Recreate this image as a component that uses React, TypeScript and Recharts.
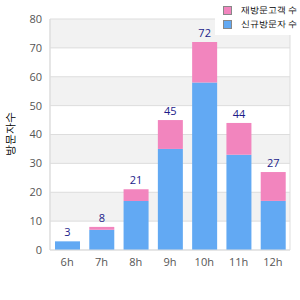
import {
  BarChart,
  Bar,
  XAxis,
  YAxis,
  CartesianGrid,
  LabelList,
} from "recharts";

const hours = ["6h", "7h", "8h", "9h", "10h", "11h", "12h"];
const newVisitors = [3, 7, 17, 35, 58, 33, 17];
const repeatVisitors = [0, 1, 4, 10, 14, 11, 10];
const yTicks = [0, 10, 20, 30, 40, 50, 60, 70, 80];

const NEW_NAME = "신규방문자 수";
const REPEAT_NAME = "재방문고객 수";
const Y_LABEL = "방문자수";

const BLUE = "#62a9f3";
const PINK = "#f285be";
const FONT = "'Open Sans', sans-serif";

const data = hours.map((h, i) => ({
  hour: h,
  fresh: newVisitors[i],
  repeat: repeatVisitors[i],
  total: newVisitors[i] + repeatVisitors[i],
}));

function LegendBox() {
  const items = [
    { name: REPEAT_NAME, color: PINK },
    { name: NEW_NAME, color: BLUE },
  ];
  return (
    <div
      style={{
        position: "absolute",
        top: 0,
        right: 0,
        background: "#fff",
        padding: "3px 3px 4px 8px",
        fontFamily: FONT,
        fontSize: 9,
        zIndex: 2,
      }}
    >
      {items.map((it) => (
        <div key={it.name} style={{ display: "flex", alignItems: "center", height: 14, whiteSpace: "nowrap" }}>
          <span
            style={{
              flexShrink: 0,
              display: "inline-block",
              width: 7,
              height: 7,
              background: it.color,
              border: "1px solid #888",
              marginRight: 9,
            }}
          />
          <span style={{ color: "#000" }}>{it.name}</span>
        </div>
      ))}
    </div>
  );
}

// total label above the stack, drawn from the blue bar so zero-height pink bars still get one
function TotalLabel(props: any) {
  const { x, y, width, height, index } = props;
  const d = data[index];
  const perUnit = d.fresh ? height / d.fresh : 0;
  const top = y - d.repeat * perUnit;
  return (
    <text
      x={x + width / 2}
      y={top - 5}
      textAnchor="middle"
      fontSize={11}
      fill="#1c1c8a"
    >
      {d.total}
    </text>
  );
}

export default function App() {
  return (
    <div style={{ position: "fixed", top: 0, left: 0, width: 300, height: 300, background: "#fff" }}>
      <BarChart
        width={300}
        height={300}
        data={data}
        margin={{ top: 19, right: 10, left: 0, bottom: 20 }}
        style={{ fontFamily: FONT }}
      >
        <CartesianGrid
          stroke="#dddddd"
          horizontalFill={["#f2f2f2", "#ffffff"]}
          verticalCoordinatesGenerator={({ offset }: any) => [
            offset.left,
            offset.left + offset.width,
          ]}
        />
        <XAxis
          dataKey="hour"
          height={30}
          tickLine={false}
          axisLine={{ stroke: "#dddddd" }}
          tick={{ fill: "#555", fontSize: 11 }}
        />
        <YAxis
          width={50}
          domain={[0, 80]}
          ticks={yTicks}
          tickLine={false}
          axisLine={{ stroke: "#dddddd" }}
          tick={{ fill: "#555", fontSize: 11 }}
          label={{
            content: () => (
              <text
                x={9}
                y={134}
                transform="rotate(-90 9 134)"
                textAnchor="middle"
                dominantBaseline="central"
                fontSize={11}
                fill="#000"
              >
                {Y_LABEL}
              </text>
            ),
          }}
        />
        <Bar dataKey="fresh" stackId="a" fill={BLUE} barSize={25} isAnimationActive={false} name={NEW_NAME}>
          <LabelList dataKey="total" content={TotalLabel} />
        </Bar>
        <Bar dataKey="repeat" stackId="a" fill={PINK} barSize={25} isAnimationActive={false} name={REPEAT_NAME} />
      </BarChart>
      <LegendBox />
    </div>
  );
}
